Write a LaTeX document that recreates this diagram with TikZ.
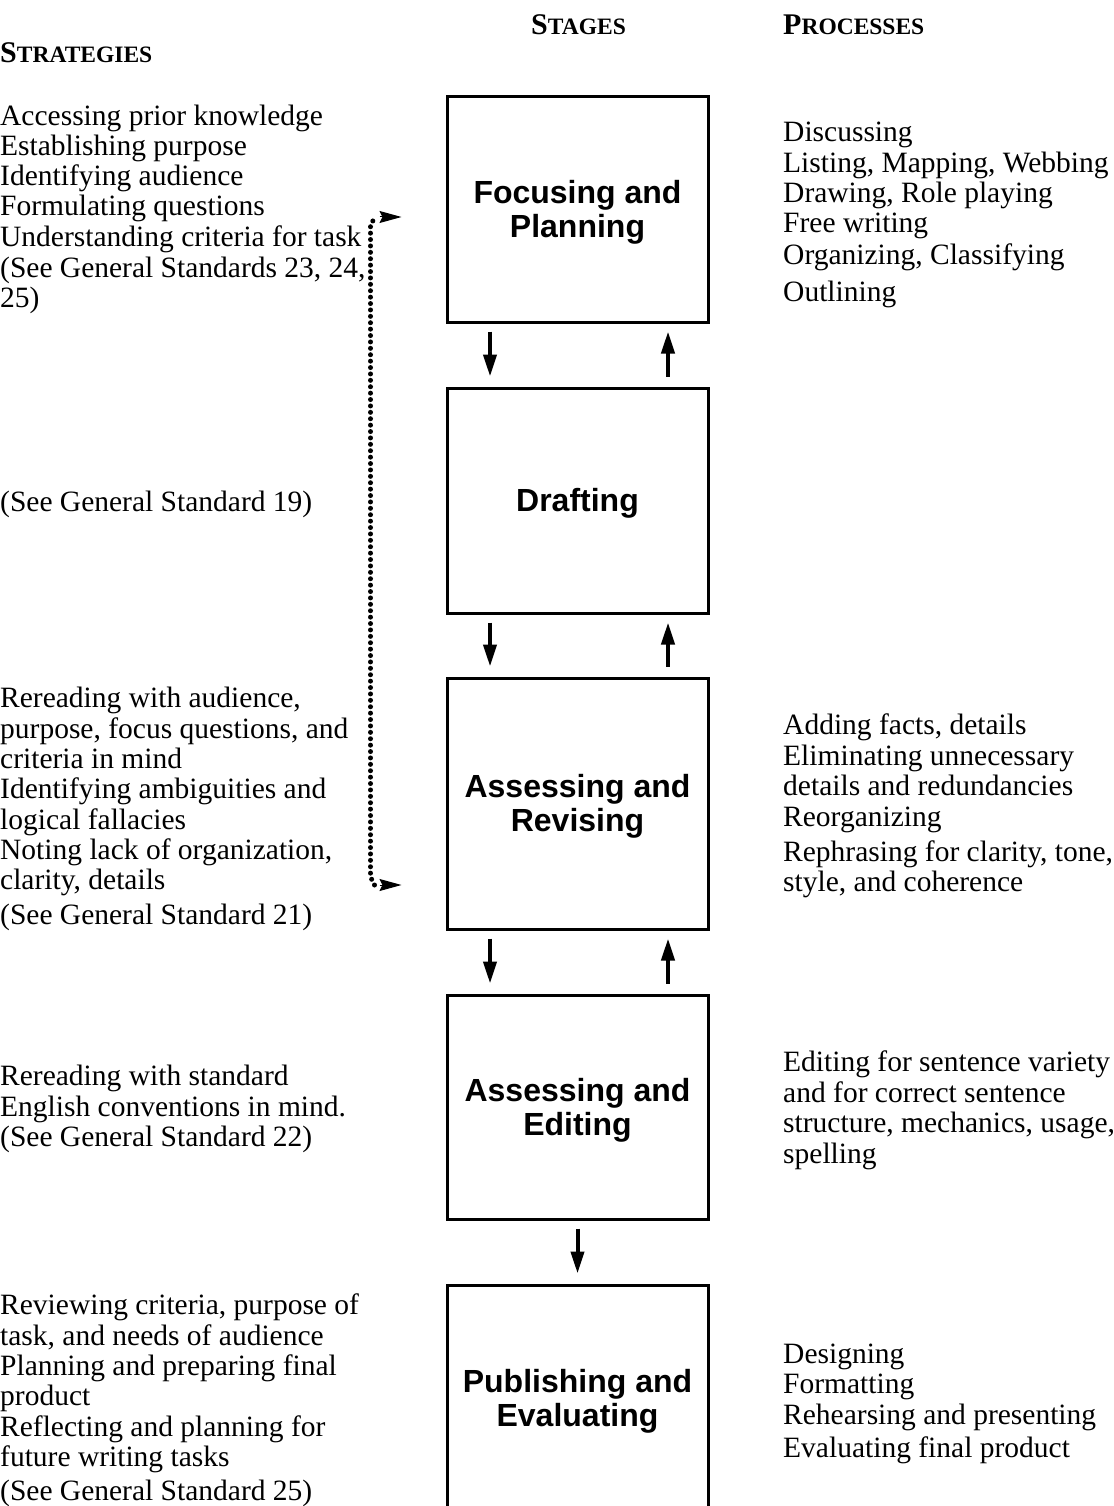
\documentclass[tikz,border=0pt]{standalone}
\usepackage{fontspec}
\setmainfont{Liberation Serif}
\newfontfamily\boxfont{Liberation Sans}
\usetikzlibrary{arrows.meta,calc}
\newcommand{\hsc}[2]{{\bfseries\fontsize{30}{30}\selectfont #1\fontsize{23.5}{30}\selectfont #2}}
\begin{document}
\begin{tikzpicture}[x=1pt,y=-1pt,
  txt/.style={anchor=base west, inner sep=0pt, yshift=-2pt, font=\fontsize{29.5}{30}\selectfont},
  stagebox/.style={draw, line width=3pt, minimum width=261pt, inner sep=0pt},
  stagelabel/.style={align=center, inner sep=0pt, font=\boxfont\bfseries\fontsize{32}{34}\selectfont},
  flow/.style={line width=4pt, -{Triangle[length=22pt,width=13pt]}},
  loopline/.style={line width=5pt, line cap=round, dash pattern=on 0pt off 6.4pt},
  looptip/.style={line width=1pt, -{Stealth[length=22pt,width=12pt,inset=3pt]}},
]
\useasboundingbox (0,0) rectangle (1113,1506);
\begin{scope}
\clip (0,0) rectangle (1113,1506);

% headers
\node[txt] (h1) at (0,61) {\hsc{S}{TRATEGIES}};
\node[txt] (h2) at (531,33) {\hsc{S}{TAGES}};
\node[txt] (h3) at (783,33) {\hsc{P}{ROCESSES}};

% stage boxes
\node[stagebox, minimum height=225pt] (b1) at (577.5,209.5) {};
\node[stagebox, minimum height=225pt] (b2) at (577.5,500.5) {};
\node[stagebox, minimum height=251pt] (b3) at (577.5,803.5) {};
\node[stagebox, minimum height=224pt] (b4) at (577.5,1107) {};
\node[stagebox, minimum height=228pt] (b5) at (577.5,1399) {};
\node[stagelabel] (l1) at ($(b1.center)+(0,3)$) {Focusing and\\Planning};
\node[stagelabel] (l2) at ($(b2.center)+(0,3)$) {Drafting};
\node[stagelabel] (l3) at ($(b3.center)+(0,3)$) {Assessing and\\Revising};
\node[stagelabel] (l4) at ($(b4.center)+(0,3)$) {Assessing and\\Editing};
\node[stagelabel] (l5) at ($(b5.center)+(0,2)$) {Publishing and\\Evaluating};

% flow arrows
\foreach \a/\b in {b1/b2,b2/b3,b3/b4}{
  \draw[flow, shorten <=8pt, shorten >=10pt] ($(\a.south)+(-87.5,0)$) -- ($(\b.north)+(-87.5,0)$);
  \draw[flow, shorten <=10pt, shorten >=8pt] ($(\b.north)+(90.5,0)$) -- ($(\a.south)+(90.5,0)$);
}
\draw[flow, shorten <=8pt, shorten >=10pt] (b4.south) -- (b5.north);

% dotted loop
\coordinate (lb) at ($(b3.west)+(-66,81.5)$);
\coordinate (lt) at ($(b1.west)+(-66,7.5)$);
\draw[loopline] ($(lb)+(-5,0)$) -- ($(lb)+(-9,-8)$) -- ($(lt)+(-9,8)$) -- ($(lt)+(-5,1)$);
\draw[looptip] (lt) -- ($(lt)+(22,0)$);
\draw[looptip] (lb) -- ($(lb)+(22,0)$);

% strategies
\node[txt] (s1) at (0,124) {Accessing prior knowledge};
\node[txt] (s2) at (0,154) {Establishing purpose};
\node[txt] (s3) at (0,184) {Identifying audience};
\node[txt] (s4) at (0,214) {Formulating questions};
\node[txt] (s5) at (0,245) {Understanding criteria for task};
\node[txt] (s6) at (0,275) {(See General Standards 23, 24,};
\node[txt] (s7) at (0,305) {25)};
\node[txt] (s8) at (0,509) {(See General Standard 19)};
\node[txt] (s9) at (0,705) {Rereading with audience,};
\node[txt] (s10) at (0,736) {purpose, focus questions, and};
\node[txt] (s11) at (0,766) {criteria in mind};
\node[txt] (s12) at (0,796) {Identifying ambiguities and};
\node[txt] (s13) at (0,827) {logical fallacies};
\node[txt] (s14) at (0,857) {Noting lack of organization,};
\node[txt] (s15) at (0,887) {clarity, details};
\node[txt] (s16) at (0,922) {(See General Standard 21)};
\node[txt] (s17) at (0,1083) {Rereading with standard};
\node[txt] (s18) at (0,1114) {English conventions in mind.};
\node[txt] (s19) at (0,1144) {(See General Standard 22)};
\node[txt] (s20) at (0,1312) {Reviewing criteria, purpose of};
\node[txt] (s21) at (0,1343) {task, and needs of audience};
\node[txt] (s22) at (0,1373) {Planning and preparing final};
\node[txt] (s23) at (0,1403) {product};
\node[txt] (s24) at (0,1434) {Reflecting and planning for};
\node[txt] (s25) at (0,1464) {future writing tasks};
\node[txt] (s26) at (0,1498) {(See General Standard 25)};

% processes
\node[txt] (p1) at (783,140) {Discussing};
\node[txt] (p2) at (783,171) {Listing, Mapping, Webbing};
\node[txt] (p3) at (783,201) {Drawing, Role playing};
\node[txt] (p4) at (783,231) {Free writing};
\node[txt] (p5) at (783,263) {Organizing, Classifying};
\node[txt] (p6) at (783,299) {Outlining};
\node[txt] (p7) at (783,732) {Adding facts, details};
\node[txt] (p8) at (783,763) {Eliminating unnecessary};
\node[txt] (p9) at (783,793) {details and redundancies};
\node[txt] (p10) at (783,824) {Reorganizing};
\node[txt] (p11) at (783,859) {Rephrasing for clarity, tone,};
\node[txt] (p12) at (783,889) {style, and coherence};
\node[txt] (p13) at (783,1069) {Editing for sentence variety};
\node[txt] (p14) at (783,1100) {and for correct sentence};
\node[txt] (p15) at (783,1130) {structure, mechanics, usage,};
\node[txt] (p16) at (783,1161) {spelling};
\node[txt] (p17) at (783,1361) {Designing};
\node[txt] (p18) at (783,1391) {Formatting};
\node[txt] (p19) at (783,1422) {Rehearsing and presenting};
\node[txt] (p20) at (783,1455) {Evaluating final product};
\end{scope}
\end{tikzpicture}
\end{document}
